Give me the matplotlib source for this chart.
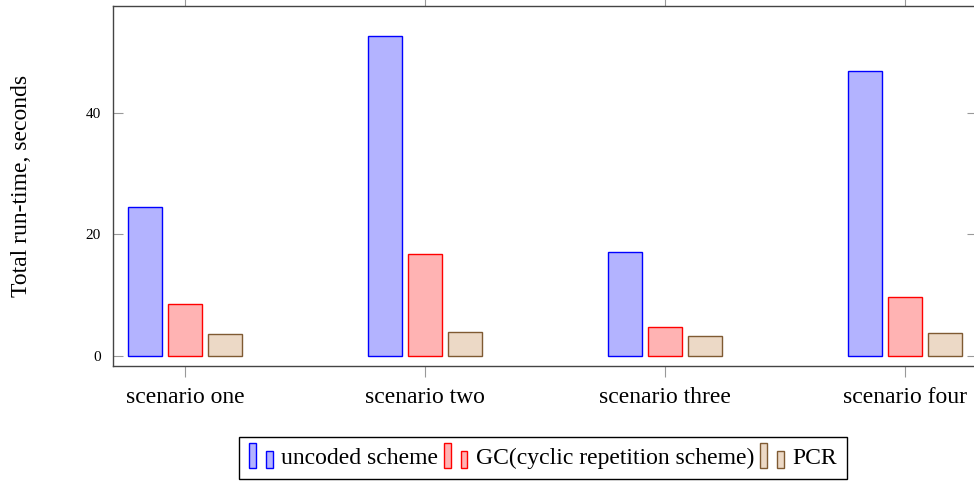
import numpy as np
import matplotlib
matplotlib.use("Agg")
import matplotlib.pyplot as plt
from matplotlib.patches import Rectangle
from matplotlib.legend_handler import HandlerBase

plt.rcParams['font.family'] = ['Liberation Serif', 'DejaVu Serif']
plt.rcParams['mathtext.fontset'] = 'stix'

scenarios = ["scenario one", "scenario two", "scenario three", "scenario four"]
series = ["uncoded scheme", "GC(cyclic repetition scheme)", "PCR"]
uncoded = [24.4, 52.6, 17.0, 46.9]
gc = [8.5, 16.8, 4.8, 9.6]
pcr = [3.6, 3.9, 3.2, 3.7]

fills = ["#b3b3ff", "#ffb3b3", "#ecd9c6"]
edges = ["#0000ff", "#ff0000", "#7f5a32"]


class TwoBarHandler(HandlerBase):
    # pgfplots style ybar legend image: two small bars
    def create_artists(self, legend, orig, xd, yd, w, h, fs, trans):
        fc, ec = orig.get_facecolor(), orig.get_edgecolor()
        bw = w * 0.24
        y0 = yd - 0.25 * h
        r1 = Rectangle((xd, y0), bw, h * 1.5, fc=fc, ec=ec, lw=1, transform=trans)
        r2 = Rectangle((xd + w * 0.62, y0), bw, h * 1.0, fc=fc, ec=ec, lw=1, transform=trans)
        return [r1, r2]


fig = plt.figure(figsize=(9.74, 4.83), dpi=100)
ax = fig.add_axes([113 / 974, 1 - 366 / 483, 864 / 974, 360.5 / 483])

x = np.arange(1, len(scenarios) + 1)
bw, off = 0.143, 0.1667
handles = []
for i, vals in enumerate([uncoded, gc, pcr]):
    b = ax.bar(x + (i - 1) * off, vals, bw, color=fills[i], edgecolor=edges[i], lw=1, label=series[i])
    handles.append(b.patches[0])

ax.set_xlim(0.7, 4.3)
ax.set_ylim(-1.7, 57.65)
ax.set_xticks(x)
ax.set_xticklabels(scenarios)
ax.set_yticks([0, 20, 40])
ax.tick_params(axis='y', direction='in', length=7, width=0.8, color='#999999',
               left=True, right=True, labelsize=11, pad=9)
ax.tick_params(axis='x', direction='out', length=8, width=0.8, color='#999999',
               bottom=True, top=True, labelsize=17, pad=7)
for s in ax.spines.values():
    s.set_color('#444444')
    s.set_linewidth(1)
ax.set_ylabel("Total run-time, seconds", fontsize=17, labelpad=38)

fig.legend(handles, series, loc='center', bbox_to_anchor=(543 / 974, 1 - 458 / 483),
           ncols=3, fontsize=17, frameon=True, fancybox=False, edgecolor='black',
           handler_map={Rectangle: TwoBarHandler()}, handlelength=1.15,
           handletextpad=0.2, columnspacing=0.25, borderpad=0.45, framealpha=1)

fig.savefig("out.png", dpi=100)
